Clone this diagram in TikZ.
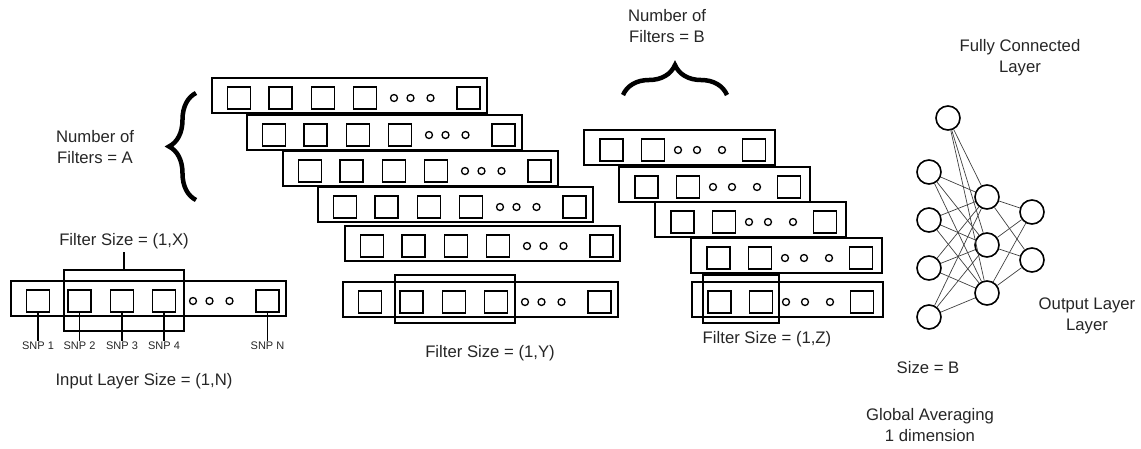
\documentclass[tikz,border=0pt]{standalone}
\usepackage{fontspec}
\setmainfont{Liberation Sans}
\usetikzlibrary{positioning,decorations.pathreplacing}

% 长行：名称、左边 x、上边 y
\newcommand{\longrow}[3]{%
  \node[rowbox, minimum width=275pt] (#1) at (#2+137.5,#3+17.5) {};
  \foreach \k/\cx in {1/27,2/68.5,3/111,4/153,5/256.5}
    \node[cell] (#1-c\k) at (#2+\cx,#3+20) {};
  \foreach \k/\cx in {1/182,2/198.5,3/218.5}
    \node[dot] (#1-d\k) at (#2+\cx,#3+20) {};
}
% 短行
\newcommand{\shortrow}[3]{%
  \node[rowbox, minimum width=191pt] (#1) at (#2+95.5,#3+17.5) {};
  \foreach \k/\cx in {1/27.5,2/69,3/170}
    \node[cell] (#1-c\k) at (#2+\cx,#3+20) {};
  \foreach \k/\cx in {1/94,2/113,3/138}
    \node[dot] (#1-d\k) at (#2+\cx,#3+20) {};
}

\begin{document}
\begin{tikzpicture}[x=1pt, y=-1pt,
    rowbox/.style={draw, line width=1.8pt, minimum height=35pt, inner sep=0pt},
    cell/.style={draw, line width=1.6pt, minimum width=23pt, minimum height=22pt, inner sep=0pt},
    dot/.style={draw, circle, line width=1.3pt, minimum size=7pt, inner sep=0pt},
    filterbox/.style={draw, line width=1.3pt, inner sep=0pt},
    neuron/.style={draw, circle, line width=1.6pt, minimum size=24pt, inner sep=0pt},
    edge/.style={black!75, line width=0.7pt},
    lbl/.style={text=black!85, font=\fontsize{16.7}{21}\selectfont, align=center},
    snp/.style={text=black!85, font=\fontsize{11}{13}\selectfont, inner sep=1pt},
    bigbrace/.style={decorate, line width=4.5pt}]
  \useasboundingbox (0,0) rectangle (1141,448);

  % 1. 输入层
  \longrow{in}{11}{281}
  \node[filterbox, minimum width=120pt, minimum height=61pt] (fx) at (124,300.5) {};
  \node[lbl] (fxlbl) at (124,241) {Filter Size = (1,X)};
  \draw[line width=1.3pt] (fx.north) -- (fxlbl.south);
  \foreach \k/\t in {1/SNP 1,2/SNP 2,3/SNP 3,4/SNP 4,5/SNP N} {
    \node[snp, below=28pt of in-c\k] (snp\k) {\t};
    \draw[line width=1.3pt] (in-c\k.south) -- (snp\k.north);
  }
  \node[lbl] (inlbl) at (144,381) {Input Layer Size = (1,N)};

  % 2. 第一卷积层 (A 个滤波器)
  \longrow{a1}{212}{78}
  \longrow{a2}{247}{115}
  \longrow{a3}{283}{151}
  \longrow{a4}{318}{187}
  \longrow{a5}{345}{226}
  \longrow{a6}{343}{282}
  \node[filterbox, minimum width=120pt, minimum height=48pt] (fy) at (455,299) {};
  \node[lbl] (fylbl) at (490,353) {Filter Size = (1,Y)};

  \draw[bigbrace, decoration={brace, amplitude=27pt}] (196,200) -- (196,93);
  \node[lbl] (numa) at (95,147) {Number of\\Filters = A};

  % 3. 第二卷积层 (B 个滤波器)
  \shortrow{b1}{584}{130}
  \shortrow{b2}{619}{167}
  \shortrow{b3}{655}{202}
  \shortrow{b4}{691}{238}
  \shortrow{b5}{692}{282}
  \node[filterbox, minimum width=76pt, minimum height=48pt] (fz) at (741,299) {};
  \node[lbl] (fzlbl) at (767,339) {Filter Size = (1,Z)};

  \draw[bigbrace, decoration={brace, amplitude=30pt}] (623,95) -- (727,95);
  \node[lbl] (numb) at (667,26) {Number of\\Filters = B};

  % 4. 全连接层
  \node[neuron] (h0) at (948,118) {};
  \foreach \i/\y in {1/172,2/220,3/268,4/317}
    \node[neuron] (h\i) at (929,\y) {};
  \foreach \j/\y in {1/197,2/245,3/293}
    \node[neuron] (m\j) at (987,\y) {};
  \foreach \k/\y in {1/212,2/260}
    \node[neuron] (o\k) at (1032,\y) {};
  \foreach \i in {0,...,4}
    \foreach \j in {1,2,3}
      \draw[edge] (h\i) -- (m\j);
  \foreach \j in {1,2,3}
    \foreach \k in {1,2}
      \draw[edge] (m\j) -- (o\k);

  \node[lbl] (fclbl) at (1020,58) {Fully Connected\\Layer};
  \node[lbl] (outlbl) at (1087,316) {Output Layer\\Layer};
  \node[lbl] (sizeb) at (928,368) {Size = B};
  \node[lbl] (gap) at (930,425) {Global Averaging\\1 dimension};
\end{tikzpicture}
\end{document}
